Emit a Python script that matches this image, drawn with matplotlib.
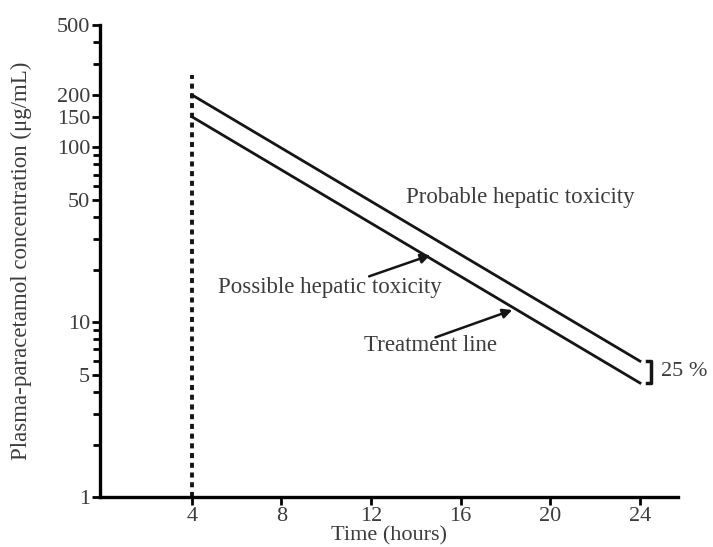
import numpy as np
import matplotlib
matplotlib.use("Agg")
import matplotlib.pyplot as plt
from matplotlib.ticker import FixedLocator, NullFormatter

plt.rcParams['font.family'] = ['Liberation Serif', 'DejaVu Serif']

# nomogram data
hours = [4, 24]
probable_line = [200, 6.0]
treatment_line = [150, 4.5]
dash_x = [4, 4]
dash_y = [1, 260]

xticks = [4, 8, 12, 16, 20, 24]
yticks = [1, 5, 10, 50, 100, 150, 200, 500]
yminor = [2, 3, 4, 6, 7, 8, 9, 20, 30, 40, 60, 70, 80, 90, 300, 400]

txt_col = '#3c3c3c'
line_col = '#151515'

fig = plt.figure(figsize=(7.13, 5.47), dpi=100)
ax = fig.add_axes([0.14, 0.091, 0.811, 0.863])

ax.plot(hours, probable_line, color=line_col, lw=2)
ax.plot(hours, treatment_line, color=line_col, lw=2)
ax.plot(dash_x, dash_y, color=line_col, lw=2.8, linestyle=(0, (1.3, 1.2)))

ax.set_yscale('log')
ax.set_xlim(-0.1, 25.7)
ax.set_ylim(1, 500)
ax.yaxis.set_major_locator(FixedLocator(yticks))
ax.yaxis.set_minor_locator(FixedLocator(yminor))
ax.yaxis.set_minor_formatter(NullFormatter())
ax.set_yticklabels([str(v) for v in yticks])
ax.set_xticks(xticks)

for s in ['top', 'right']:
    ax.spines[s].set_visible(False)
for s in ['left', 'bottom']:
    ax.spines[s].set_linewidth(2.4)
ax.tick_params(which='major', length=6, width=2, labelsize=16, labelcolor=txt_col, pad=1)
ax.tick_params(which='minor', length=5, width=2)

ax.set_xlabel('Time (hours)', fontsize=16, color=txt_col, va='center')
ax.xaxis.set_label_coords(0.5, -0.082)
ax.set_ylabel('Plasma-paracetamol concentration (μg/mL)', fontsize=16.5, color=txt_col)
ax.yaxis.set_label_coords(-0.118, 0.5)

ax.text(13.55, 52, 'Probable hepatic toxicity', fontsize=16.5, color=txt_col, va='center')
ax.text(5.16, 15.8, 'Possible hepatic toxicity', fontsize=16.5, color=txt_col, va='center')
ax.text(11.7, 7.4, 'Treatment line', fontsize=16.5, color=txt_col, va='center')

ax.annotate('', xy=(14.76, 24.5), xytext=(11.8, 18.1),
            arrowprops=dict(arrowstyle='-|>', color=line_col, lw=1.8, mutation_scale=14))
ax.annotate('', xy=(18.42, 11.9), xytext=(14.76, 8.1),
            arrowprops=dict(arrowstyle='-|>', color=line_col, lw=1.8, mutation_scale=14))

# bracket marking the 25 % gap
ax.plot([24.3, 24.5, 24.5, 24.3], [probable_line[1], probable_line[1], treatment_line[1], treatment_line[1]],
        color=line_col, lw=2.5, clip_on=False)
ax.text(24.92, 5.2, '25 %', fontsize=16, color=txt_col, va='center')

fig.savefig('out.png', dpi=100)
